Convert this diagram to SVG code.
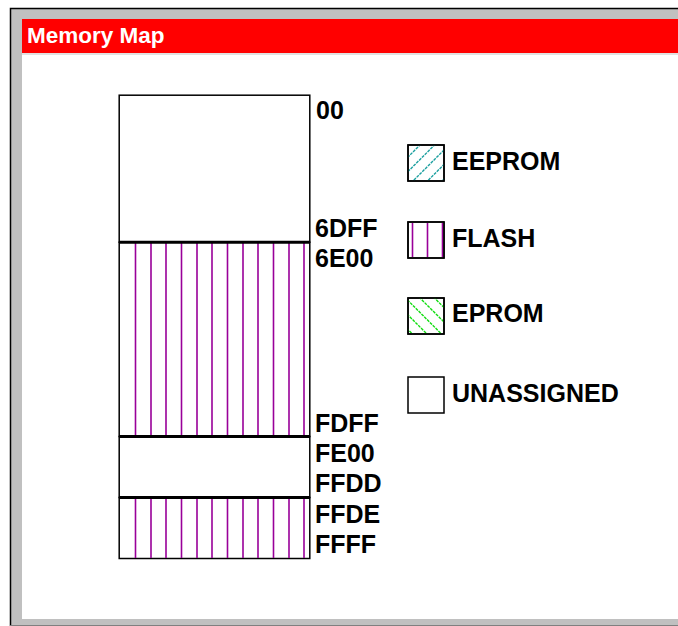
<svg xmlns="http://www.w3.org/2000/svg" width="678" height="626" viewBox="0 0 678 626">
<style>
  text { font-family: "Liberation Sans", Arial, sans-serif; font-weight: bold; }
  .lbl { font-size: 25px; fill: #000; }
  .title { font-size: 22.5px; fill: #fff; }
  .seg { fill: #fff; stroke: #000; stroke-width: 1.5; }
  .sep { stroke: #000; stroke-width: 3; }
  .fl { stroke: #990099; stroke-width: 1.6; }
  .box { fill: #fff; stroke: #000; stroke-width: 1.5; }
  .ee { stroke: #1a9f9f; stroke-width: 1.4; stroke-dasharray: 3 1; }
  .ep { stroke: #10dd10; stroke-width: 1.4; stroke-dasharray: 3 1; }
</style>
<defs>
  <clipPath id="clipEE"><rect x="408" y="145" width="36" height="36"/></clipPath>
  <clipPath id="clipEP"><rect x="408" y="298" width="36" height="36"/></clipPath>
</defs>
<rect x="0" y="0" width="678" height="626" fill="#fff"/>
<g id="window">
  <rect x="10" y="8" width="668" height="618" fill="#c0c0c0"/>
  <path d="M10.5 626 V8.5 H678" fill="none" stroke="#000" stroke-width="1.5"/>
  <rect x="22" y="19" width="656" height="34" fill="#ff0000"/>
  <rect x="22" y="53" width="656" height="2" fill="#e0e0e0"/>
  <rect x="22" y="55" width="656" height="564" fill="#fff"/>
  <line x1="10" y1="625.5" x2="678" y2="625.5" stroke="#808080" stroke-width="1"/>
  <text class="title" x="27" y="43">Memory Map</text>
</g>
<g id="memory-map">
  <g id="seg-00-6DFF">
    <rect class="seg" x="119.2" y="95.2" width="190.6" height="147"/>
  </g>
  <g id="seg-6E00-FDFF">
    <rect class="seg" x="119.2" y="242.2" width="190.6" height="194.3"/>
    <path class="fl" d="M135.5 243V436M151 243V436M166 243V436M181.5 243V436M197 243V436M212 243V436M227.5 243V436M243 243V436M258 243V436M273.5 243V436M289 243V436M304 243V436"/>
  </g>
  <g id="seg-FE00-FFDD">
    <rect class="seg" x="119.2" y="436.5" width="190.6" height="61"/>
  </g>
  <g id="seg-FFDE-FFFF">
    <rect class="seg" x="119.2" y="497.5" width="190.6" height="61"/>
    <path class="fl" d="M135.5 498V558M151 498V558M166 498V558M181.5 498V558M197 498V558M212 498V558M227.5 498V558M243 498V558M258 498V558M273.5 498V558M289 498V558M304 498V558"/>
  </g>
  <line class="sep" x1="119" y1="242.3" x2="310" y2="242.3"/>
  <line class="sep" x1="119" y1="436.5" x2="310" y2="436.5"/>
  <line class="sep" x1="119" y1="497.5" x2="310" y2="497.5"/>
</g>
<g id="addresses">
  <text class="lbl" x="316" y="119">00</text>
  <text class="lbl" x="315" y="237">6DFF</text>
  <text class="lbl" x="315" y="267">6E00</text>
  <text class="lbl" x="315" y="432">FDFF</text>
  <text class="lbl" x="315" y="462">FE00</text>
  <text class="lbl" x="315" y="492">FFDD</text>
  <text class="lbl" x="315" y="523">FFDE</text>
  <text class="lbl" x="315" y="553">FFFF</text>
</g>
<g id="legend-eeprom">
  <rect class="box" x="408" y="145" width="36" height="36"/>
  <g clip-path="url(#clipEE)">
    <path class="ee" d="M365 200L465 100M379.5 200L479.5 100M394 200L494 100M408.5 200L508.5 100M423 200L523 100"/>
  </g>
  <rect x="408" y="145" width="36" height="36" fill="none" stroke="#000" stroke-width="1.5"/>
  <text class="lbl" x="452" y="170">EEPROM</text>
</g>
<g id="legend-flash">
  <rect class="box" x="408" y="222" width="36" height="36"/>
  <path class="fl" d="M412.5 223V257M427.5 223V257M442.5 223V257"/>
  <rect x="408" y="222" width="36" height="36" fill="none" stroke="#000" stroke-width="1.5"/>
  <text class="lbl" x="452" y="247">FLASH</text>
</g>
<g id="legend-eprom">
  <rect class="box" x="408" y="298" width="36" height="36"/>
  <g clip-path="url(#clipEP)">
    <path class="ep" d="M358.5 280L478.5 400M373 280L493 400M387.5 280L507.5 400M402 280L522 400M416.5 280L536.5 400"/>
  </g>
  <rect x="408" y="298" width="36" height="36" fill="none" stroke="#000" stroke-width="1.5"/>
  <text class="lbl" x="452" y="322">EPROM</text>
</g>
<g id="legend-unassigned">
  <rect class="box" x="408" y="377" width="36" height="36"/>
  <text class="lbl" x="452" y="402">UNASSIGNED</text>
</g>
<g id="connectors"/>
</svg>
